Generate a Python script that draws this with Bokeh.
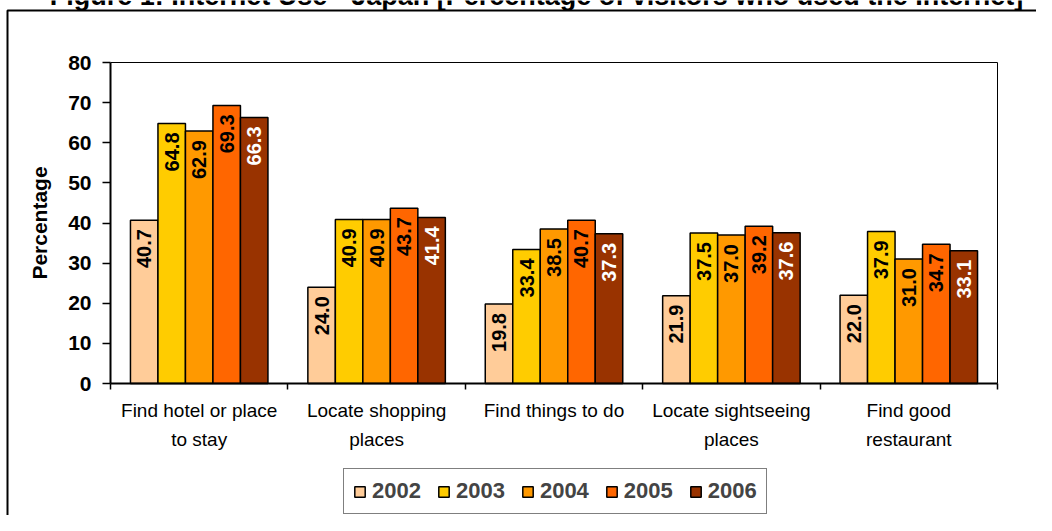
import math
from bokeh.plotting import figure
from bokeh.models import Range1d, FixedTicker, Legend, LegendItem, ColumnDataSource
from bokeh.embed import file_html
from bokeh.resources import INLINE
from bokeh.core.properties import value

title_text = "Figure 1: Internet Use - Japan [Percentage of visitors who used the Internet]"
categories = ["Find hotel or place\nto stay", "Locate shopping\nplaces", "Find things to do",
              "Locate sightseeing\nplaces", "Find good\nrestaurant"]
years = ["2002", "2003", "2004", "2005", "2006"]
v2002 = [40.7, 24.0, 19.8, 21.9, 22.0]
v2003 = [64.8, 40.9, 33.4, 37.5, 37.9]
v2004 = [62.9, 40.9, 38.5, 37.0, 31.0]
v2005 = [69.3, 43.7, 40.7, 39.2, 34.7]
v2006 = [66.3, 41.4, 37.3, 37.6, 33.1]
series = [v2002, v2003, v2004, v2005, v2006]
colors = ["#FFCC99", "#FFCC00", "#FF9900", "#FF6600", "#993300"]
label_colors = ["black", "black", "black", "black", "white"]
yticks = [0, 10, 20, 30, 40, 50, 60, 70, 80]
Y_MAX = 80

FONT = "Liberation Sans"
BAR_W = 0.155
N = len(categories)

# plot-area geometry in canvas pixels; the frame covers the whole canvas and the
# axes are pinned (fixed_location) so that legend, title and border can be drawn.
W, H = 1036, 515
PX0, PX1, PY0, PY1 = 110, 997, 62, 383
xpu = (PX1 - PX0) / N
ypu = (PY1 - PY0) / Y_MAX


def dx(px):
    return -0.5 + (px - PX0) / xpu


def dy(py):
    return Y_MAX - (py - PY0) / ypu


p = figure(width=W, height=H, output_backend="svg", toolbar_location=None,
           x_range=Range1d(dx(0), dx(W)), y_range=Range1d(dy(H), dy(0)),
           min_border_left=0, min_border_right=0, min_border_top=0, min_border_bottom=0)
p.xgrid.visible = False
p.ygrid.visible = False
p.outline_line_color = None
p.background_fill_color = "white"
p.border_fill_color = "white"

items = []
for j, (vals, col) in enumerate(zip(series, colors)):
    xs = [i + (j - 2) * BAR_W for i in range(N)]
    src = ColumnDataSource(dict(x=xs, top=vals, lab=[f"{v:.1f}" for v in vals]))
    r = p.vbar(x="x", top="top", width=BAR_W, bottom=0, source=src,
               fill_color=col, line_color="black", line_width=1.5)
    p.text(x="x", y="top", text="lab", source=src, angle=math.pi / 2,
           text_align="right", text_baseline="middle", y_offset=9,
           text_font=value(FONT), text_font_style="bold", text_font_size="20px",
           text_color=label_colors[j])
    items.append(LegendItem(label=years[j], renderers=[r]))

# plot area top and right edges
p.line(x=[-0.5, N - 0.5, N - 0.5], y=[Y_MAX, Y_MAX, 0], line_color="black", line_width=1)

# y axis
ya = p.yaxis[0]
ya.fixed_location = -0.5
ya.bounds = (0, Y_MAX)
ya.ticker = FixedTicker(ticks=yticks, minor_ticks=[])
ya.axis_line_width = 2
ya.major_tick_out = 8
ya.major_tick_in = 0
ya.major_tick_line_width = 1.5
ya.major_label_standoff = 11
ya.major_label_text_font = FONT
ya.major_label_text_font_style = "bold"
ya.major_label_text_font_size = "21px"
ya.major_label_text_color = "black"
ya.axis_label = "Percentage"
ya.axis_label_text_font = FONT
ya.axis_label_text_font_style = "bold"
ya.axis_label_text_font_size = "21px"
ya.axis_label_text_color = "black"
ya.axis_label_standoff = 14

# x axis
xa = p.xaxis[0]
xa.fixed_location = 0
xa.bounds = (-0.5, N - 0.5)
xa.ticker = FixedTicker(ticks=list(range(N)), minor_ticks=[i - 0.5 for i in range(N + 1)])
xa.major_label_overrides = {i: c for i, c in enumerate(categories)}
xa.axis_line_width = 2
xa.major_tick_out = 0
xa.major_tick_in = 0
xa.minor_tick_out = 6
xa.minor_tick_in = 0
xa.minor_tick_line_width = 1.5
xa.major_label_standoff = 10
xa.major_label_text_font = FONT
xa.major_label_text_font_size = "19px"
xa.major_label_text_color = "black"
xa.major_label_text_line_height = 1.4

# legend
legend = Legend(items=items, orientation="horizontal", location=(343, 1),
                label_text_font=FONT, label_text_font_style="bold", label_text_font_size="22px",
                glyph_width=13, glyph_height=13, label_standoff=6, spacing=16,
                padding=9, margin=0, border_line_color="black", border_line_width=1.5,
                background_fill_color="white", background_fill_alpha=1)
p.add_layout(legend)

# outer chart border (left and top edges visible)
p.line(x=[dx(7), dx(7), dx(W + 50)], y=[dy(H + 50), dy(10), dy(10)],
       line_color="black", line_width=2)

# title (cut off at the top like the reference)
p.text(x=[dx(536)], y=[dy(-5)], text=[title_text], text_align="center",
       text_baseline="alphabetic", text_font=value(FONT), text_font_style="bold",
       text_font_size="27px", text_color="black")

open("out.html", "w").write(file_html(p, INLINE))
